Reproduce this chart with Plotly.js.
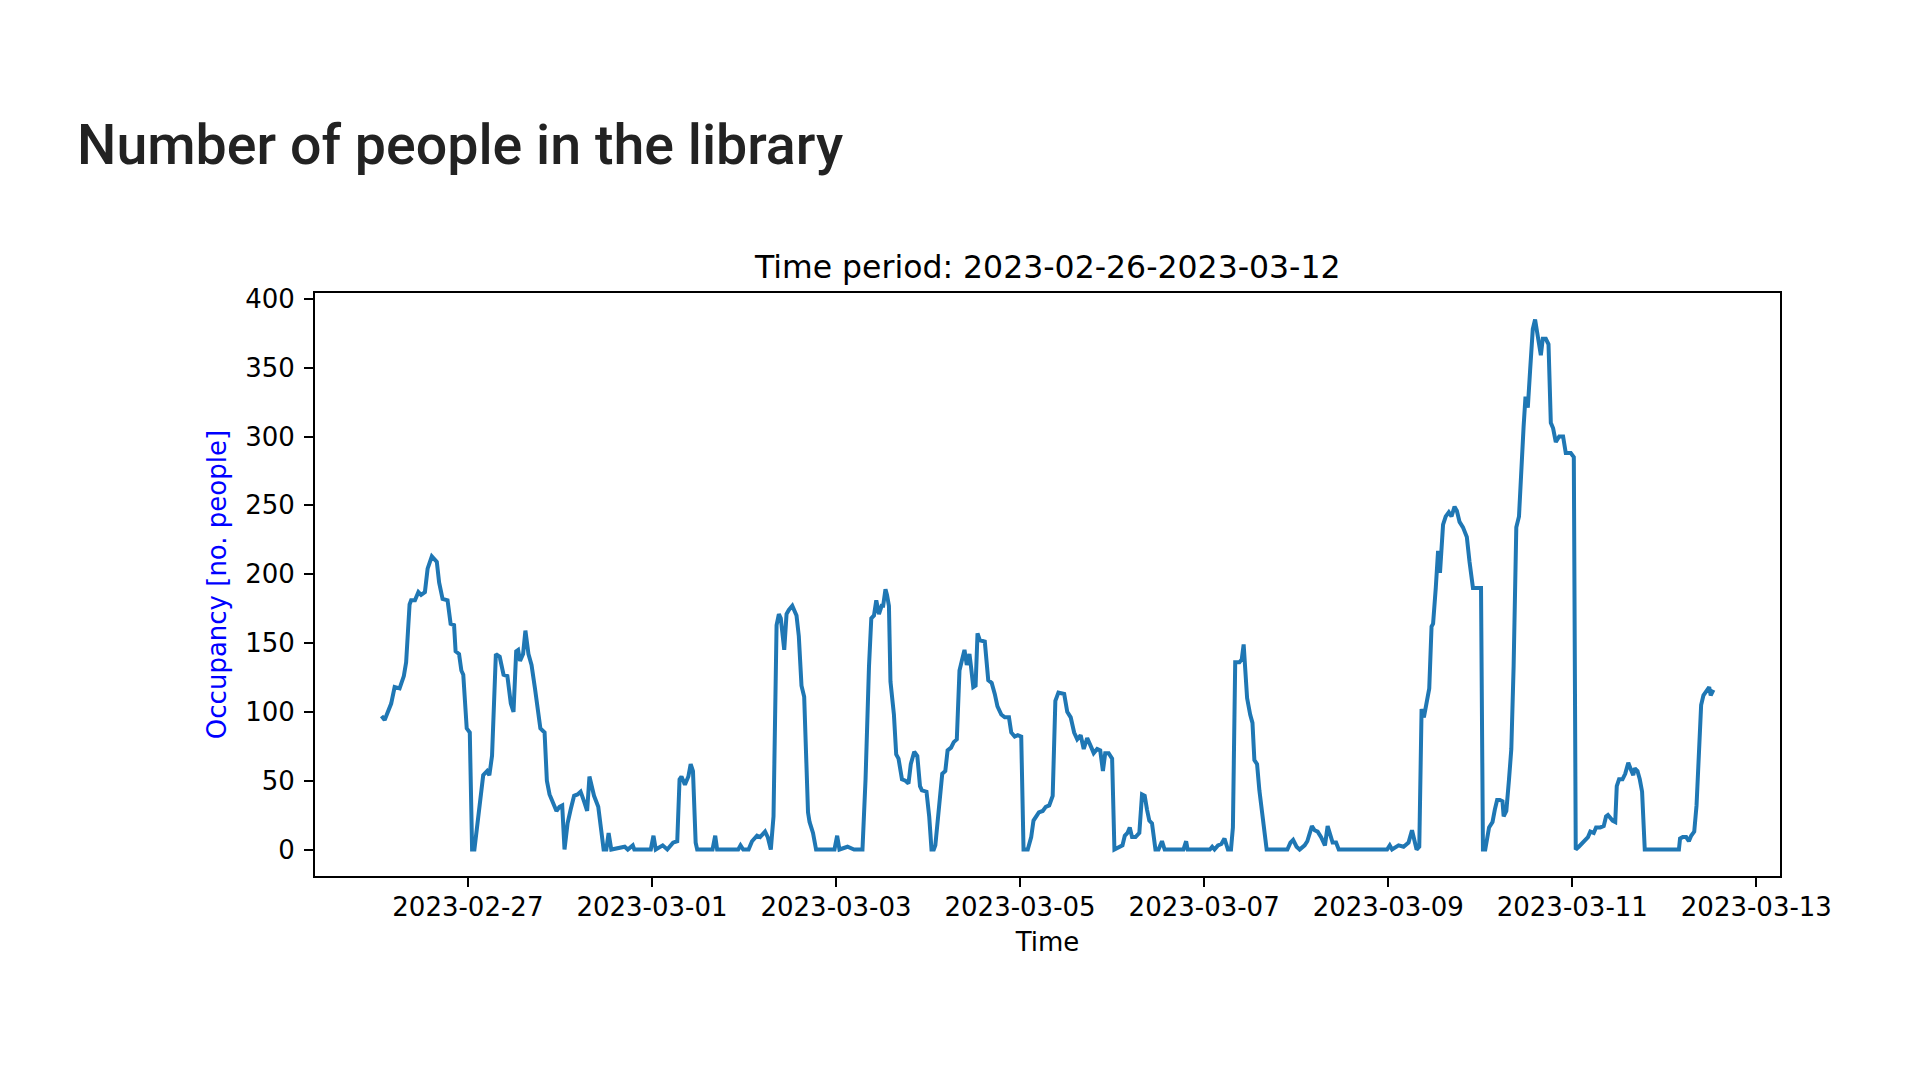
<!DOCTYPE html>
<html>
<head>
<meta charset="utf-8">
<script src="https://cdn.plot.ly/plotly-3.0.1.min.js"></script>
<style>
  html, body { margin: 0; padding: 0; background: #ffffff; }
  #chart { width: 1920px; height: 1080px; }
</style>
</head>
<body>
<div id="chart"></div>
<script>
// Hours since 2023-02-26 00:00 and occupancy
const startDay = "2023-02-26";
const hoursFromStart = [
  1.5, 2.3, 4.0, 4.9, 6.2, 7.3, 7.9, 8.8, 9.2, 10.2, 11.1, 11.8, 12.8, 13.5, 14.6, 15.9, 16.5, 17.4, 18.7, 19.5,
  20.4, 20.8, 21.7, 22.3, 22.8, 23.7, 24.5, 25.1, 25.7, 26.8, 28.0, 29.0, 29.6, 30.3, 31.3, 32.3, 33.3, 34.3, 35.2, 35.9,
  36.6, 37.1, 37.6, 38.4, 39.0, 39.8, 40.6, 41.5, 42.3, 42.9, 44.0, 44.6, 45.3, 46.2, 47.1, 47.9, 48.6, 49.2,
  50.0, 50.8, 51.7, 52.6, 53.4, 54.3, 55.1, 55.7, 56.3, 56.9, 58.0, 58.8, 59.4, 60.1, 60.7, 61.4, 64.9, 65.7, 67.0, 67.4,
  71.7, 72.4, 73.0, 74.8, 76.0, 77.5, 78.6, 79.2, 79.7, 80.6, 81.5, 82.1, 82.7, 83.4, 83.8, 87.8, 88.5, 89.0, 94.5, 95.1, 95.8,
  97.2, 98.1, 99.4, 100.2, 101.5, 102.2, 103.0, 103.7, 104.5, 105.1, 105.6, 106.5, 107.1, 107.7, 108.6, 109.7, 110.3, 111.0,
  111.7, 112.3, 112.7, 113.1, 114.0, 114.8, 119.6, 120.3, 120.9, 123.0, 124.7, 126.9, 127.7, 128.6, 129.2, 129.9, 130.5,
  131.2, 131.9, 132.3, 132.9, 133.3, 133.8, 134.2, 135.1, 135.7, 136.3, 137.2, 138.1, 138.9, 139.5, 140.4, 141.2, 141.9,
  142.4, 143.6, 144.3, 144.9,
  145.5, 145.9, 146.8, 147.7, 148.5, 149.1, 150.0, 150.7, 151.5, 152.2, 152.8, 153.5, 154.1, 154.8, 155.2, 155.8, 156.4,
  156.9, 157.5, 158.8, 159.7, 160.6, 161.4, 162.1, 163.1, 164.0, 165.1, 165.7, 166.6, 167.4, 168.3, 168.9, 170.0, 170.9,
  171.5, 172.2, 172.9, 173.9, 174.7, 175.6, 176.5, 177.2, 178.0, 179.5, 180.3, 181.2, 182.1, 182.9, 183.8, 184.6, 185.5,
  186.6, 187.2, 188.1, 188.9, 189.6, 190.2, 191.1, 192.0, 192.6,
  193.8, 194.7, 195.3, 196.0, 196.6, 197.2, 198.1, 199.1, 199.8, 200.5, 201.1, 201.7, 202.4, 202.8, 203.3, 204.1, 205.0,
  205.7, 210.6, 211.3, 211.7, 217.5, 218.1, 218.7, 219.6, 220.5, 221.3, 222.2, 223.0, 223.5, 224.1, 225.2, 225.8, 226.3,
  226.7, 227.2, 228.0, 228.6, 229.1, 229.8, 230.4, 231.0, 231.7, 232.3, 237.7, 238.5, 239.2, 240.1, 240.9,
  242.2, 242.9, 243.5, 244.1, 244.8, 245.6, 246.5, 247.5, 248.2, 248.9, 249.5, 250.4, 251.1, 263.7, 264.4, 265.0, 266.7,
  268.0, 269.3, 270.2, 270.8, 271.4, 272.1, 272.7, 273.3, 274.0, 274.7, 275.3, 275.7, 276.4, 277.0, 277.5, 277.9, 278.3,
  279.0, 279.8, 280.5, 281.3, 281.9, 282.6, 283.5, 284.5, 285.2, 286.1, 287.4, 288.2, 288.7, 289.3,
  290.3, 291.2, 291.8, 292.4, 293.1, 293.8, 294.1, 294.8, 295.5, 296.1, 296.7, 297.4, 298.1, 298.7, 299.3, 299.8, 300.4,
  301.0, 301.7, 302.3, 303.0, 303.8, 304.3, 305.1, 305.8, 306.4, 307.0, 307.7, 308.6, 309.6, 310.3, 311.6, 312.4, 312.9,
  313.7, 315.0, 316.1, 316.7, 317.6, 318.2, 319.3, 320.2, 320.8, 321.3, 321.9, 322.5, 323.2, 323.6, 324.2, 325.1, 325.8,
  326.6, 327.3, 327.9, 328.3, 329.0, 329.6, 330.2, 330.9,
  339.8, 340.1, 340.8, 341.7, 342.4, 343.0, 343.8, 344.4, 345.0, 345.6, 346.2, 346.9, 347.7, 348.1, 348.8
];
const occupancy = [
  97, 94, 106, 118, 117, 126, 136, 178, 181, 181, 187, 185, 187, 204, 213, 209, 194, 182, 181, 164,
  163, 144, 142, 130, 127, 88, 85, 0, 0, 24, 54, 57, 54, 68, 142, 140, 127, 126, 106, 100,
  144, 145, 137, 142, 159, 142, 134, 117, 103, 88, 85, 50, 40, 34, 28, 31, 32, 0,
  19, 29, 39, 40, 42, 35, 28, 53, 47, 39, 31, 16, 0, 0, 12, 0, 2, 0, 3, 0,
  0, 10, 0, 3, 0, 5, 6, 51, 53, 47, 53, 62, 57, 5, 0, 0, 10, 0, 0, 3, 0,
  0, 6, 10, 9, 13, 9, 0, 24, 163, 171, 168, 145, 171, 174, 177, 170, 155, 119,
  111, 65, 27, 20, 12, 0, 0, 10, 0, 2, 0, 0, 51, 133, 168, 170, 181,
  171, 177, 177, 189, 185, 177, 122, 98, 69, 66, 51, 50, 48, 62, 71, 68, 46,
  43, 42, 24, 0,
  0, 3, 32, 55, 57, 72, 74, 78, 80, 130, 137, 145, 134, 142, 133, 118, 119,
  157, 152, 151, 123, 121, 113, 104, 98, 96, 96, 85, 82, 83, 82, 0, 0, 9,
  21, 24, 27, 28, 31, 32, 39, 108, 114, 113, 100, 96, 85, 80, 83, 73, 81,
  74, 70, 73, 72, 57, 70, 70, 66, 0,
  2, 3, 10, 12, 16, 9, 9, 12, 40, 39, 29, 21, 19, 12, 0, 0, 6,
  0, 0, 6, 0, 0, 2, 0, 3, 4, 8, 0, 0, 16, 136, 136, 138, 149,
  133, 110, 98, 92, 65, 62, 43, 29, 8, 0, 0, 5, 7, 2, 0,
  3, 6, 13, 17, 14, 13, 9, 3, 17, 9, 5, 5, 0, 0, 3, 0, 3,
  2, 5, 14, 6, 0, 2, 102, 96, 107, 117, 162, 164, 190, 217, 201, 217, 236,
  242, 245, 242, 249, 246, 238, 234, 227, 209, 190, 190, 190, 0, 0,
  16, 20, 29, 36, 36, 35, 24, 28, 51, 73, 133, 234, 242, 283, 307, 329, 321,
  348, 378, 385, 373, 359, 371, 371, 367, 310, 306, 296, 300, 300, 288, 288, 285, 0,
  2, 6, 9, 13, 12, 16, 16, 17, 24, 25, 23, 21, 20, 46, 51, 51, 55,
  63, 58, 54, 59, 57, 51, 42, 0,
  0, 8, 9, 9, 6, 10, 13, 32, 65, 105, 112, 115, 118, 112, 116
];
const xTickStart = "2023-02-27";
const xTickStepDays = 2;
const yTickValues = [0, 50, 100, 150, 200, 250, 300, 350, 400];

const pageTitle = "Number of people in the library";
const plotTitle = "Time period: 2023-02-26-2023-03-12";
const xLabel = "Time";
const yLabel = "Occupancy [no. people]";

const base = Date.parse(startDay + "T00:00:00Z");
function toStr(ms) {
  return new Date(ms).toISOString().slice(0, 19).replace("T", " ");
}
const times = hoursFromStart.map(h => toStr(base + Math.round(h * 60) * 60000));

const hMin = Math.min(...hoursFromStart), hMax = Math.max(...hoursFromStart);
const hPad = 0.05 * (hMax - hMin);
const xRange = [toStr(base + (hMin - hPad) * 3600000), toStr(base + (hMax + hPad) * 3600000)];
const yMax = Math.max(...occupancy), yMin = Math.min(...occupancy);
const yPad = 0.05 * (yMax - yMin);
const yRange = [yMin - yPad, yMax + yPad];

const FONT = "DejaVu Sans, sans-serif";

const trace = {
  type: "scatter",
  mode: "lines",
  x: times,
  y: occupancy,
  line: { color: "#1f77b4", width: 4 },
  hoverinfo: "skip"
};

const layout = {
  width: 1920,
  height: 1080,
  paper_bgcolor: "#ffffff",
  plot_bgcolor: "#ffffff",
  showlegend: false,
  margin: { l: 315, r: 140, t: 293, b: 204, pad: 0 },
  title: {
    text: pageTitle,
    font: { family: "Roboto, sans-serif", size: 55.5, color: "#222222", weight: 500 },
    xref: "container", yref: "container",
    x: 77 / 1920, xanchor: "left",
    y: 1 - 145 / 1080, yanchor: "middle"
  },
  annotations: [{
    text: plotTitle,
    xref: "paper", yref: "paper",
    x: 0.5, xanchor: "center",
    y: (876 - 267) / 583, yanchor: "middle",
    showarrow: false,
    font: { family: FONT, size: 31.5, color: "#000000" }
  }],
  xaxis: {
    type: "date",
    range: xRange,
    tickmode: "linear",
    tick0: xTickStart,
    dtick: xTickStepDays * 86400000,
    tickformat: "%Y-%m-%d",
    ticks: "outside",
    ticklen: 9,
    tickwidth: 2,
    tickcolor: "#000000",
    showline: true,
    mirror: true,
    linecolor: "#000000",
    linewidth: 2,
    showgrid: false,
    zeroline: false,
    ticklabelstandoff: -2,
    tickfont: { family: FONT, size: 26, color: "#000000" },
    title: { text: xLabel, font: { family: FONT, size: 26, color: "#000000" }, standoff: 12 },
    automargin: false
  },
  yaxis: {
    range: yRange,
    tickmode: "array",
    tickvals: yTickValues,
    ticktext: yTickValues.map(String),
    ticks: "outside",
    ticklen: 9,
    tickwidth: 2,
    tickcolor: "#000000",
    showline: true,
    mirror: true,
    linecolor: "#000000",
    linewidth: 2,
    showgrid: false,
    zeroline: false,
    ticklabelstandoff: 4,
    tickfont: { family: FONT, size: 26, color: "#000000" },
    title: { text: yLabel, font: { family: FONT, size: 26, color: "#0000ff" }, standoff: 11 },
    automargin: false
  }
};

Plotly.newPlot("chart", [trace], layout, { displayModeBar: false, staticPlot: true });
</script>
</body>
</html>
